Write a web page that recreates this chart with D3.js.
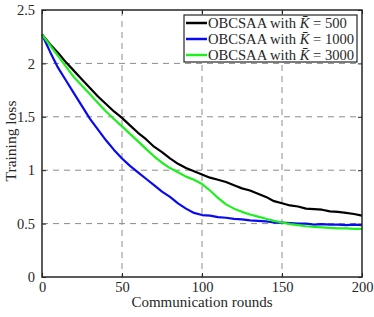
<!DOCTYPE html>
<html>
<head>
<meta charset="utf-8">
<script src="https://cdn.jsdelivr.net/npm/d3@7"></script>
<style>
  body { margin: 0; background: #fff; }
  text { font-family: "Liberation Serif", "Times New Roman", serif; fill: #262626; }
</style>
</head>
<body>
<svg id="chart" width="374" height="317"></svg>
<script>
var rounds = [0,5,10,15,20,25,30,35,40,45,50,55,60,65,70,75,80,85,90,95,100,
  105,110,115,120,125,130,135,140,145,150,155,160,165,170,175,180,185,190,195,200]

var loss500 = [2.27,2.18,2.10,2.01,1.93,1.85,1.77,1.69,1.62,1.55,1.49,1.42,1.35,1.29,1.22,1.17,1.11,1.06,1.02,0.99,0.96,
  0.93,0.91,0.89,0.86,0.83,0.81,0.78,0.75,0.71,0.69,0.67,0.66,0.64,0.635,0.63,0.615,0.61,0.60,0.59,0.575]
var loss1000 = [2.27,2.11,1.96,1.84,1.72,1.60,1.48,1.38,1.28,1.19,1.11,1.04,0.98,0.92,0.86,0.80,0.75,0.69,0.64,0.60,0.58,
  0.575,0.56,0.555,0.545,0.54,0.53,0.525,0.52,0.51,0.51,0.505,0.50,0.50,0.49,0.495,0.49,0.49,0.485,0.49,0.485]
var loss3000 = [2.27,2.17,2.07,1.97,1.87,1.79,1.71,1.63,1.55,1.48,1.41,1.34,1.27,1.20,1.13,1.07,1.02,0.98,0.94,0.91,0.87,
  0.81,0.74,0.68,0.64,0.61,0.585,0.565,0.545,0.525,0.51,0.495,0.485,0.475,0.47,0.465,0.46,0.455,0.455,0.45,0.45]

var seriesNames = ['500', '1000', '3000']
var seriesColors = ['#000000', '#0a0af0', '#1ef01e']
var xTicks = [0, 50, 100, 150, 200]
var yTicks = [0, 0.5, 1, 1.5, 2, 2.5]

var pL = 42, pT = 10, pR = 362, pB = 277

var x = d3.scaleLinear().domain([0, 200]).range([pL, pR])
var y = d3.scaleLinear().domain([0, 2.5]).range([pB, pT])

var svg = d3.select('#chart')

// dashed grid
svg.append('g').selectAll('line')
  .data(xTicks.slice(1, -1))
  .join('line')
  .attr('x1', d => x(d)).attr('x2', d => x(d))
  .attr('y1', pT).attr('y2', pB)
  .attr('stroke', '#8c8c8c').attr('stroke-width', 1)
  .attr('stroke-dasharray', '6,5')
svg.append('g').selectAll('line')
  .data(yTicks.slice(1, -1))
  .join('line')
  .attr('x1', pL).attr('x2', pR)
  .attr('y1', d => y(d)).attr('y2', d => y(d))
  .attr('stroke', '#8c8c8c').attr('stroke-width', 1)
  .attr('stroke-dasharray', '6,5')

// curves
var line = d3.line()
  .x((d, i) => x(rounds[i]))
  .y(d => y(d))

var allLoss = [loss500, loss1000, loss3000]
svg.append('g').selectAll('path')
  .data(allLoss)
  .join('path')
  .attr('fill', 'none')
  .attr('stroke', (d, i) => seriesColors[i])
  .attr('stroke-width', 2.2)
  .attr('stroke-linejoin', 'round')
  .attr('d', line)

// axes, ticks inward on all four sides
svg.append('g').attr('transform', 'translate(0,' + pB + ')')
  .call(d3.axisBottom(x).tickValues(xTicks).tickSizeInner(-4).tickSizeOuter(0).tickPadding(5))
svg.append('g').attr('transform', 'translate(0,' + pT + ')')
  .call(d3.axisTop(x).tickValues(xTicks).tickSizeInner(-4).tickSizeOuter(0).tickFormat(''))
svg.append('g').attr('transform', 'translate(' + pL + ',0)')
  .call(d3.axisLeft(y).tickValues(yTicks).tickSizeInner(-4).tickSizeOuter(0).tickPadding(7).tickFormat(d3.format('')))
svg.append('g').attr('transform', 'translate(' + pR + ',0)')
  .call(d3.axisRight(y).tickValues(yTicks).tickSizeInner(-4).tickSizeOuter(0).tickFormat(''))

svg.selectAll('.domain').remove()
svg.selectAll('.tick line').attr('stroke', '#262626').attr('stroke-width', 1)
svg.selectAll('.tick text')
  .style('font-family', '"Liberation Serif", serif')
  .style('font-size', '14.5px')
  .attr('fill', '#262626')

svg.append('rect')
  .attr('x', pL).attr('y', pT)
  .attr('width', pR - pL).attr('height', pB - pT)
  .attr('fill', 'none').attr('stroke', '#262626').attr('stroke-width', 1.5)

svg.append('text')
  .attr('x', (pL + pR) / 2).attr('y', 307)
  .attr('text-anchor', 'middle')
  .style('font-size', '15px')
  .text('Communication rounds')

svg.append('text')
  .attr('transform', 'translate(16,141) rotate(-90)')
  .attr('text-anchor', 'middle')
  .style('font-size', '15.5px')
  .text('Training loss')

// legend
var lg = svg.append('g')
lg.append('rect')
  .attr('x', 184).attr('y', 15)
  .attr('width', 173).attr('height', 47)
  .attr('fill', '#fff').attr('stroke', '#262626').attr('stroke-width', 1.2)

var rows = lg.selectAll('g.row')
  .data(seriesNames)
  .join('g')
  .attr('class', 'row')
  .attr('transform', (d, i) => 'translate(0,' + (23 + i * 16) + ')')
rows.append('line')
  .attr('x1', 186).attr('x2', 207)
  .attr('stroke', (d, i) => seriesColors[i])
  .attr('stroke-width', 2.5)
var lt = rows.append('text')
  .attr('x', 208).attr('y', 4.5)
  .style('font-size', '14.6px')
lt.append('tspan').text('OBCSAA with ')
lt.append('tspan').style('font-style', 'italic').text('K\u0304')
lt.append('tspan').text(d => ' = ' + d)
</script>
</body>
</html>
